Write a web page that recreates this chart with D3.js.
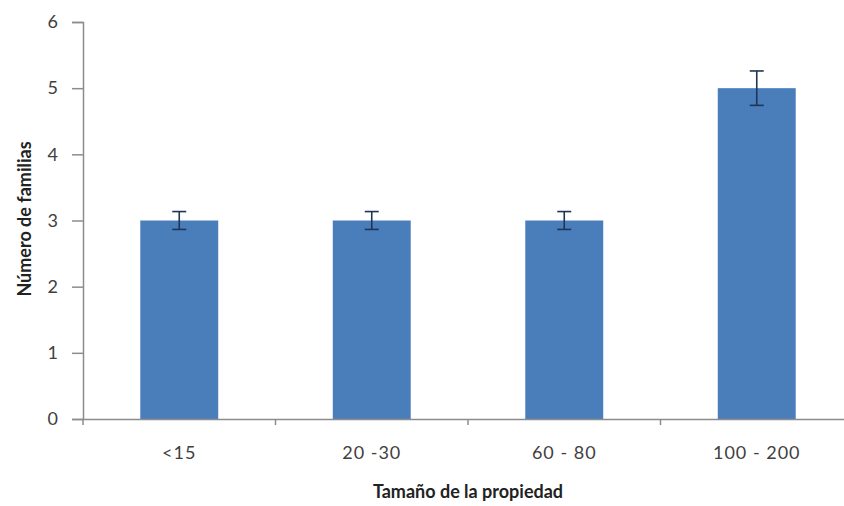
<!DOCTYPE html>
<html>
<head>
<meta charset="utf-8">
<script src="https://cdn.jsdelivr.net/npm/d3@7"></script>
<style>
  html, body { margin: 0; padding: 0; background: #fff; }
  svg { display: block; }
</style>
</head>
<body>
<svg id="chart" width="844" height="506"></svg>
<script>
const categories = ["<15", "20 -30", "60 - 80", "100 - 200"];
const values = [3, 3, 3, 5];
const errors = [0.135, 0.135, 0.135, 0.26];
const yTicks = [0, 1, 2, 3, 4, 5, 6];
const xTitle = "Tamaño de la propiedad";
const yTitle = "Número de familias";

const svg = d3.select("#chart");
const mLeft = 83, mRight = 853, mTop = 22, mBottom = 419;
const font = "Lato, 'Open Sans', sans-serif";

const x = d3.scaleBand().domain(categories).range([mLeft, mRight]).paddingInner(0.595).paddingOuter(0.2975);
const xb = d3.scaleBand().domain(categories).range([mLeft, mRight]);
const y = d3.scaleLinear().domain([0, 6]).range([mBottom, mTop]);

// bars
svg.append("g").selectAll("rect").data(categories).join("rect")
  .attr("x", d => x(d))
  .attr("width", x.bandwidth())
  .attr("y", (d, i) => y(values[i]))
  .attr("height", (d, i) => y(0) - y(values[i]))
  .attr("fill", "#4a7ebb");

// y axis
const yAxis = svg.append("g").attr("transform", `translate(${mLeft},0)`)
  .call(d3.axisLeft(y).tickValues(yTicks).tickSize(11).tickPadding(14).tickFormat(d3.format("d")));
yAxis.select(".domain").attr("stroke", "#8c8c8c").attr("stroke-width", 1.5);
yAxis.selectAll(".tick line").attr("stroke", "#8c8c8c").attr("stroke-width", 1.5);
yAxis.selectAll("text").attr("font-family", font).attr("font-size", 18).attr("fill", "#404040");

// x axis
const xAxis = svg.append("g").attr("transform", `translate(0,${mBottom})`)
  .call(d3.axisBottom(xb).tickSize(0).tickPadding(27));
xAxis.select(".domain").attr("stroke", "#8c8c8c").attr("stroke-width", 1.5);
xAxis.selectAll("text").attr("font-family", font).attr("font-size", 18).attr("fill", "#404040").attr("letter-spacing", "1px");
// boundary tick marks
svg.append("g").selectAll("line").data(categories).join("line")
  .attr("x1", d => xb(d)).attr("x2", d => xb(d))
  .attr("y1", mBottom).attr("y2", mBottom + 6)
  .attr("stroke", "#8c8c8c").attr("stroke-width", 1.5);

// error bars
const eb = svg.append("g").attr("stroke", "#1f3555").attr("stroke-width", 1.6);
categories.forEach((c, i) => {
  const cx = x(c) + x.bandwidth() / 2;
  const y1 = y(values[i] + errors[i]), y2 = y(values[i] - errors[i]);
  eb.append("line").attr("x1", cx).attr("x2", cx).attr("y1", y1).attr("y2", y2);
  eb.append("line").attr("x1", cx - 7).attr("x2", cx + 7).attr("y1", y1).attr("y2", y1);
  eb.append("line").attr("x1", cx - 7).attr("x2", cx + 7).attr("y1", y2).attr("y2", y2);
});

// titles
svg.append("text").attr("x", 468).attr("y", 498).attr("text-anchor", "middle")
  .attr("font-family", font).attr("font-size", 18).attr("font-weight", "bold").attr("fill", "#222")
  .text(xTitle);
svg.append("text").attr("transform", "translate(31,219) rotate(-90)").attr("text-anchor", "middle")
  .attr("font-family", font).attr("font-size", 18).attr("font-weight", "bold").attr("fill", "#222")
  .text(yTitle);
</script>
</body>
</html>
